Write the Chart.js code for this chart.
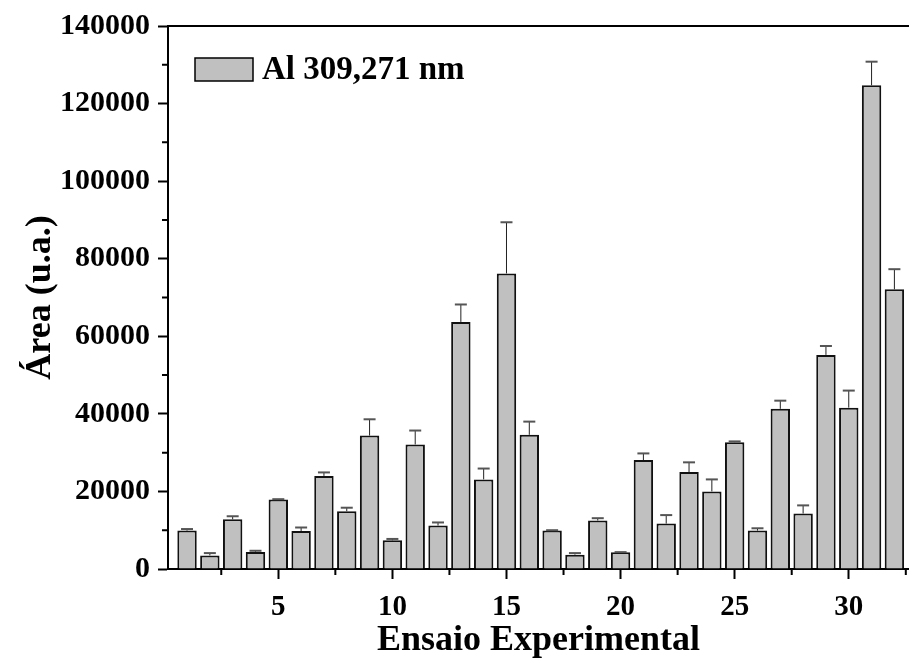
<!DOCTYPE html>
<html>
<head>
<meta charset="utf-8">
<script src="https://cdn.jsdelivr.net/npm/chart.js@4"></script>
<style>
  html, body { margin: 0; padding: 0; background: #fff; overflow: hidden; }
</style>
</head>
<body>
<canvas id="areaChart" width="909" height="661"></canvas>
<script>
// Ensaio number, peak area and the standard deviation for each run
const ensaios = [1, 2, 3, 4, 5, 6, 7, 8, 9, 10, 11, 12, 13, 14, 15, 16,
                 17, 18, 19, 20, 21, 22, 23, 24, 25, 26, 27, 28, 29, 30, 31, 32];
const areas = [9900, 3500, 12800, 4400, 17900, 9800, 24000, 14900, 34400, 7400, 32100, 11200,
               63700, 23100, 76200, 34600, 9900, 3700, 12500, 4300, 28100, 11700, 25000, 20000,
               32700, 9900, 41300, 14300, 55200, 41600, 124700, 72100];
const erros = [400, 600, 800, 300, 100, 900, 900, 900, 4200, 350, 3600, 800,
               4500, 2800, 13200, 3400, 100, 400, 600, 50, 1700, 2200, 2500, 3100,
               200, 600, 2100, 2100, 2300, 4400, 6100, 5200];
const xTicks = [5, 10, 15, 20, 25, 30];
const xMinor = [2.5, 7.5, 12.5, 17.5, 22.5, 27.5, 32.5];
const yTicks = [0, 20000, 40000, 60000, 80000, 100000, 120000, 140000];
const yMinor = [10000, 30000, 50000, 70000, 90000, 110000, 130000];
const serieLabel = 'Al 309,271 nm';

const FONT = "'Liberation Serif', 'Times New Roman', serif";
const BAR_FILL = '#c0c0c0';

// upper error bars on top of each column
const errorBars = {
    id: 'errorBars',
    afterDatasetsDraw(chart) {
        const ctx = chart.ctx;
        const x = chart.scales.x, y = chart.scales.y;
        ctx.save();
        ensaios.forEach((e, i) => {
            const px = x.getPixelForValue(e);
            const top = y.getPixelForValue(areas[i]);
            const end = y.getPixelForValue(areas[i] + erros[i]);
            ctx.strokeStyle = '#222';
            ctx.lineWidth = 1;
            ctx.beginPath();
            ctx.moveTo(px, top);
            ctx.lineTo(px, end);
            ctx.stroke();
            ctx.strokeStyle = '#555';
            ctx.lineWidth = 2;
            ctx.beginPath();
            ctx.moveTo(px - 6, end);
            ctx.lineTo(px + 6, end);
            ctx.stroke();
        });
        ctx.restore();
    }
};

// minor ticks, top frame line and the legend box
const frame = {
    id: 'frame',
    afterDraw(chart) {
        const ctx = chart.ctx;
        const {left, right, top, bottom} = chart.chartArea;
        const x = chart.scales.x, y = chart.scales.y;
        ctx.save();
        ctx.strokeStyle = '#000';
        ctx.lineWidth = 2;
        ctx.beginPath();
        ctx.moveTo(left - 1, top);
        ctx.lineTo(right, top);
        xMinor.forEach(v => {
            const px = x.getPixelForValue(v);
            ctx.moveTo(px, bottom);
            ctx.lineTo(px, bottom + 6);
        });
        yMinor.forEach(v => {
            const py = y.getPixelForValue(v);
            ctx.moveTo(left, py);
            ctx.lineTo(left - 6, py);
        });
        ctx.stroke();

        ctx.fillStyle = BAR_FILL;
        ctx.lineWidth = 1.5;
        ctx.fillRect(195, 58, 58, 23);
        ctx.strokeRect(195, 58, 58, 23);
        ctx.fillStyle = '#000';
        ctx.font = 'bold 33px ' + FONT;
        ctx.textBaseline = 'middle';
        ctx.fillText(serieLabel, 262, 70);
        ctx.restore();
    }
};

new Chart(document.getElementById('areaChart'), {
    type: 'bar',
    data: {
        datasets: [{
            label: serieLabel,
            data: ensaios.map((e, i) => ({x: e, y: areas[i]})),
            backgroundColor: BAR_FILL,
            borderColor: '#111',
            borderWidth: 2,
            borderSkipped: 'bottom',
            categoryPercentage: 1,
            barPercentage: 0.85
        }]
    },
    options: {
        responsive: false,
        animation: false,
        devicePixelRatio: 1,
        layout: { padding: { top: 26, right: 0, left: 0, bottom: 0 } },
        plugins: {
            legend: { display: false },
            tooltip: { enabled: false }
        },
        scales: {
            x: {
                type: 'linear',
                min: 0.166,
                max: 32.64,
                offset: false,
                afterBuildTicks: s => { s.ticks = xTicks.map(v => ({value: v})); },
                afterFit: s => { s.height = 92; },
                grid: {
                    offset: false,
                    drawOnChartArea: false,
                    tickLength: 10,
                    tickWidth: 2,
                    tickColor: '#000'
                },
                border: { color: '#000', width: 2 },
                ticks: {
                    color: '#000',
                    padding: 11,
                    maxRotation: 0,
                    callback: v => String(v),
                    font: { family: FONT, size: 29, weight: 'bold' }
                },
                title: {
                    display: true,
                    text: 'Ensaio Experimental',
                    color: '#000',
                    padding: { bottom: -1 },
                    font: { family: FONT, size: 36, weight: 'bold', lineHeight: 1.2 }
                }
            },
            y: {
                min: 0,
                max: 140000,
                afterBuildTicks: s => { s.ticks = yTicks.map(v => ({value: v})); },
                afterFit: s => { s.width = 168; },
                grid: {
                    drawOnChartArea: false,
                    tickLength: 10,
                    tickWidth: 2,
                    tickColor: '#000'
                },
                border: { color: '#000', width: 2 },
                ticks: {
                    color: '#000',
                    padding: 8,
                    callback: v => String(v),
                    font: { family: FONT, size: 30, weight: 'bold' }
                },
                title: {
                    display: true,
                    text: 'Área (u.a.)',
                    color: '#000',
                    padding: { top: 19 },
                    font: { family: FONT, size: 36, weight: 'bold', lineHeight: 1.2 }
                }
            }
        }
    },
    plugins: [errorBars, frame]
});
</script>
</body>
</html>
